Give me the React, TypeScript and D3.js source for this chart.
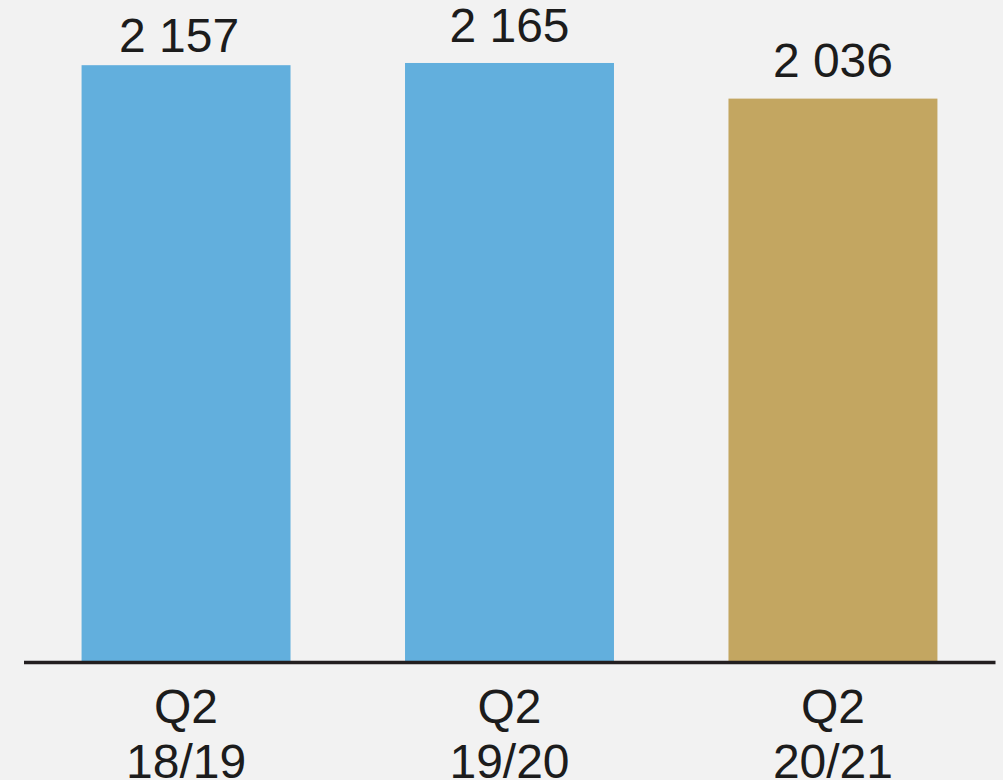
import React from "react";
import * as d3 from "d3";

const categoriesTop = ["Q2", "Q2", "Q2"];
const categoriesBottom = ["18/19", "19/20", "20/21"];
const values = [2157, 2165, 2036];
const valueLabels = ["2 157", "2 165", "2 036"];
const barColors = ["#62afdd", "#62afdd", "#c3a661"];

const W = 1003;
const H = 780;
const labelGap = [13, 21, 22];
const labelDx = [-7, 0, 0];

export default function App() {
  const ids = values.map((_, i) => String(i));
  const x = d3
    .scaleBand<string>()
    .domain(ids)
    .range([24, 995])
    .paddingInner(0.354)
    .paddingOuter(0.178);
  const y = d3.scaleLinear().domain([0, 2393]).range([661, 0]);
  const font = "'Liberation Sans', Arial, sans-serif";
  const textColor = "#1c1c1c";

  return (
    <svg
      width={W}
      height={H}
      style={{ position: "absolute", left: 0, top: 0, display: "block" }}
    >
      <rect x={0} y={0} width={W} height={H} fill="#f2f2f2" />
      {values.map((v, i) => (
        <rect
          key={"b" + i}
          x={x(ids[i])}
          y={y(v)}
          width={x.bandwidth()}
          height={y(0) - y(v)}
          fill={barColors[i]}
        />
      ))}
      <line
        x1={24}
        x2={995.5}
        y1={662.5}
        y2={662.5}
        stroke="#231f20"
        strokeWidth={3.4}
      />
      {values.map((v, i) => (
        <text
          key={"v" + i}
          x={(x(ids[i]) as number) + x.bandwidth() / 2 + labelDx[i]}
          y={y(v) - labelGap[i]}
          textAnchor="middle"
          fontFamily={font}
          fontSize={48}
          fill={textColor}
        >
          {valueLabels[i]}
        </text>
      ))}
      {categoriesTop.map((c, i) => (
        <g key={"c" + i}>
          <text
            x={(x(ids[i]) as number) + x.bandwidth() / 2}
            y={722.7}
            textAnchor="middle"
            fontFamily={font}
            fontSize={48}
            fill={textColor}
          >
            {c}
          </text>
          <text
            x={(x(ids[i]) as number) + x.bandwidth() / 2}
            y={778}
            textAnchor="middle"
            fontFamily={font}
            fontSize={48}
            fill={textColor}
          >
            {categoriesBottom[i]}
          </text>
        </g>
      ))}
    </svg>
  );
}
